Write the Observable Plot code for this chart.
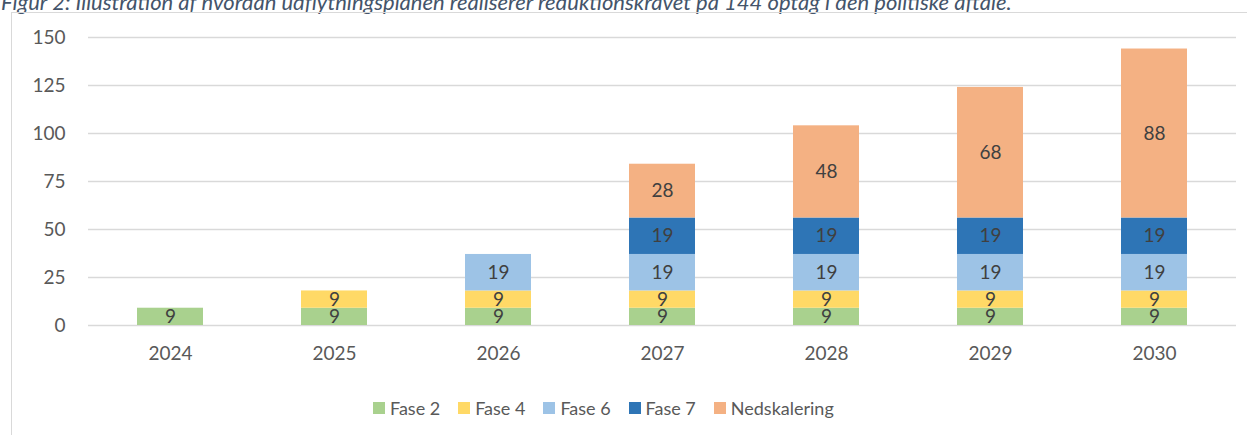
<!DOCTYPE html>
<html>
<head>
<meta charset="utf-8">
<script src="https://cdn.jsdelivr.net/npm/d3@7"></script>
<script src="https://cdn.jsdelivr.net/npm/@observablehq/plot@0.6"></script>
<style>
  html, body { margin: 0; padding: 0; background: #fff; width: 1247px; height: 435px; overflow: hidden; position: relative; }
  #title { position: absolute; left: 1px; top: -9px; font-family: Lato, sans-serif; font-style: italic; font-size: 22px; line-height: 22px; color: #44546A; white-space: nowrap; }
  #frame { position: absolute; left: 11px; top: 12px; width: 1300px; height: 500px; border: 1.5px solid #d9d9d9; box-sizing: border-box; }
  #chart { position: absolute; left: 0; top: 0; }
  #legend { position: absolute; left: 373px; top: 397px; display: flex; align-items: center; font-family: Lato, sans-serif; font-size: 18px; color: #595959; }
  #legend .item { display: flex; align-items: center; margin-right: 18px; }
  #legend .sw { width: 12px; height: 12px; margin-right: 5px; }
</style>
</head>
<body>
<div id="title">Figur 2: Illustration af hvordan udflytningsplanen realiserer reduktionskravet på 144 optag i den politiske aftale.</div>
<div id="frame"></div>
<div id="chart"></div>
<div id="legend"></div>
<script>
const years = ["2024", "2025", "2026", "2027", "2028", "2029", "2030"];
const phases = ["Fase 2", "Fase 4", "Fase 6", "Fase 7", "Nedskalering"];
const fase2 = [9, 9, 9, 9, 9, 9, 9];
const fase4 = [0, 9, 9, 9, 9, 9, 9];
const fase6 = [0, 0, 19, 19, 19, 19, 19];
const fase7 = [0, 0, 0, 19, 19, 19, 19];
const nedskalering = [0, 0, 0, 28, 48, 68, 88];
const colors = ["#A9D18E", "#FFD966", "#9DC3E6", "#2E75B6", "#F4B183"];
const yTicks = [0, 25, 50, 75, 100, 125, 150];

const series = [fase2, fase4, fase6, fase7, nedskalering];
const rows = [];
years.forEach((year, i) => {
  phases.forEach((phase, j) => {
    const value = series[j][i];
    if (value > 0) rows.push({year, phase, value});
  });
});

const chart = Plot.plot({
  width: 1247,
  height: 380,
  marginLeft: 88,
  marginRight: 11,
  marginTop: 37,
  marginBottom: 55,
  style: {fontFamily: "Lato, sans-serif", fontSize: "19px", color: "#595959", background: "transparent", overflow: "visible"},
  x: {domain: years, paddingInner: 0.6, paddingOuter: 0.3, label: null},
  y: {domain: [0, 150], label: null},
  color: {domain: phases, range: colors},
  marks: [
    Plot.gridY(yTicks, {stroke: "#d9d9d9", strokeOpacity: 1, strokeWidth: 1.5}),
    Plot.barY(rows, Plot.stackY({x: "year", y: "value", fill: "phase", order: phases})),
    Plot.text(rows, Plot.stackY({x: "year", y: "value", z: "phase", order: phases, text: d => String(d.value), fill: "#404040", fontSize: 19})),
    Plot.axisX({tickSize: 0, tickPadding: 21, fontSize: 19, fill: "#595959"}),
    Plot.axisY(yTicks, {tickSize: 0, tickPadding: 23, fontSize: 19, fill: "#595959"})
  ]
});
document.getElementById("chart").appendChild(chart);

const legend = document.getElementById("legend");
phases.forEach((p, i) => {
  const item = document.createElement("div");
  item.className = "item";
  const sw = document.createElement("span");
  sw.className = "sw";
  sw.style.background = colors[i];
  const t = document.createElement("span");
  t.textContent = p;
  item.appendChild(sw);
  item.appendChild(t);
  legend.appendChild(item);
});
</script>
</body>
</html>
